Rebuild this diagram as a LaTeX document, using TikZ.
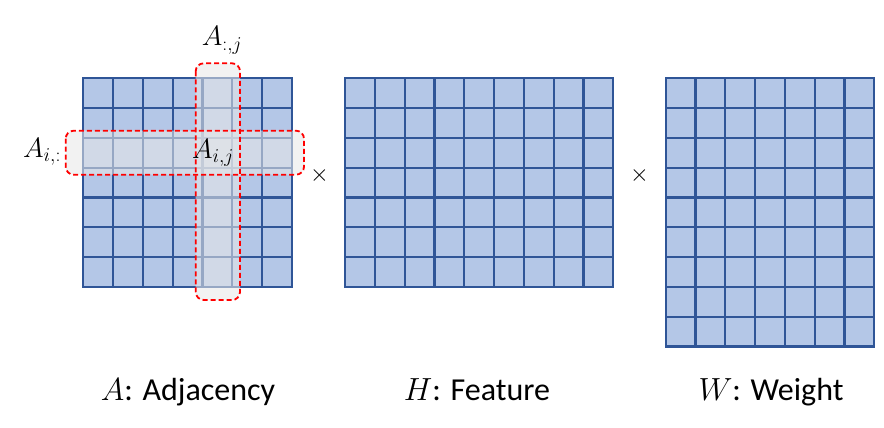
\RequirePackage{fix-cm}
\documentclass[tikz,border=0pt]{standalone}
\usepackage{fontspec}
\setmainfont{Carlito}
\definecolor{cellblue}{HTML}{B4C7E7}
\definecolor{lineblue}{HTML}{2F5597}
\definecolor{hlgray}{HTML}{E8E8E8}
\tikzset{
  cellfill/.style={fill=cellblue},
  gridl/.style={draw=lineblue, line width=2.2pt},
  hl/.style={fill=hlgray, fill opacity=0.56, rounded corners=8pt},
  hlborder/.style={draw=red, line width=1.8pt, dash pattern=on 5pt off 3pt, rounded corners=8pt},
  mlabel/.style={font=\fontsize{28}{32}\selectfont, inner sep=0pt, anchor=base},
  caption/.style={font=\fontsize{32}{38}\selectfont, inner sep=0pt, anchor=base},
  timesym/.style={font=\fontsize{24}{28}\selectfont, inner sep=0pt}
}
\newcommand\mygrid[4]{%
  \fill[cellfill] (#1,#2) rectangle ++(#3*29.8,#4*29.8);
  \foreach \i in {1,...,\numexpr#3-1\relax} \draw[gridl] (#1+\i*29.8,#2) -- ++(0,#4*29.8);
  \foreach \j in {1,...,\numexpr#4-1\relax} \draw[gridl] (#1,#2+\j*29.8) -- ++(#3*29.8,0);
  \draw[gridl] (#1,#2) rectangle ++(#3*29.8,#4*29.8);
}
\begin{document}
\begin{tikzpicture}[x=1pt,y=-1pt]
\useasboundingbox (0,0) rectangle (884,428);
% grids
\mygrid{83.3}{78.3}{7}{7}
\mygrid{345}{78.3}{9}{7}
\mygrid{665.7}{78.3}{7}{9}
% highlights
\fill[hl] (195.7,63.3) rectangle (240,300);
\fill[hl] (65.7,130.7) rectangle (304,174.7);
\draw[hlborder] (195.7,63.3) rectangle (240,300);
\draw[hlborder] (65.7,130.7) rectangle (304,174.7);
% labels
\node[mlabel] (acol) at (222,46) {$A_{:,j}$};
\node[mlabel] (arow) at (42,157.7) {$A_{i,:}$};
\node[mlabel] (aij) at (213,158) {$A_{i,j}$};
\node[timesym] (x1) at (319.5,175) {$\times$};
\node[timesym] (x2) at (639.5,175) {$\times$};
\node[caption] (ca) at (188,400) {$A$: Adjacency};
\node[caption] (ch) at (477,400) {$H$: Feature};
\node[caption] (cw) at (771,400) {$W$: Weight};
\end{tikzpicture}
\end{document}
